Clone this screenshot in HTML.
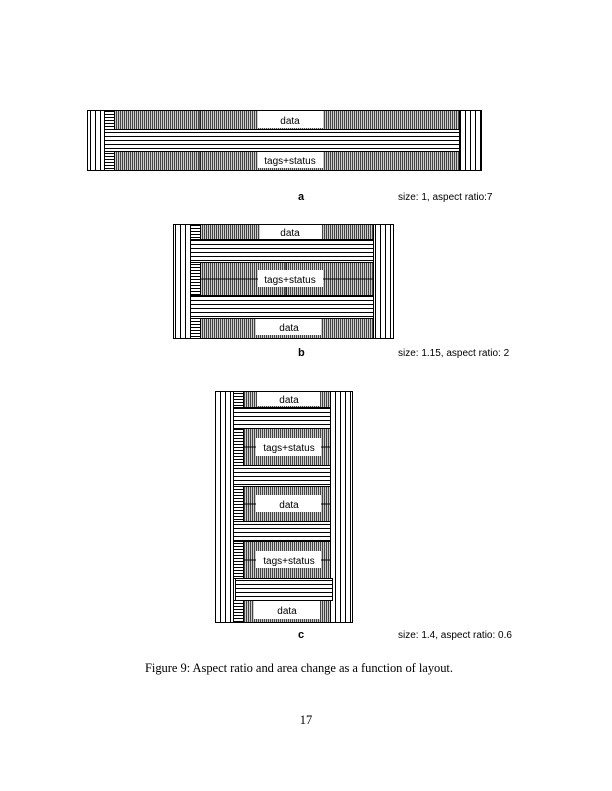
<!DOCTYPE html>
<html><head><style>
html,body{margin:0;padding:0;background:#fff;width:612px;height:791px;overflow:hidden}
svg{display:block}
.l{font-family:"Liberation Sans",sans-serif;font-size:10px}
</style></head><body>
<svg width="612" height="791" viewBox="0 0 612 791" xmlns="http://www.w3.org/2000/svg">
<defs>
<pattern id="g" width="2" height="4" patternUnits="userSpaceOnUse"><rect width="2" height="4" fill="#ccc"/><rect width="1" height="4" fill="#444"/></pattern>
<pattern id="h" width="4" height="4" patternUnits="userSpaceOnUse"><rect width="4" height="4" fill="#fff"/><rect width="4" height="1" fill="#000"/></pattern>
<pattern id="v" width="5" height="4" patternUnits="userSpaceOnUse"><rect width="5" height="4" fill="#fff"/><rect width="1" height="4" fill="#000"/></pattern>
<pattern id="hs" width="3" height="3" patternUnits="userSpaceOnUse"><rect width="3" height="3" fill="#fff"/><rect width="3" height="1" fill="#000"/></pattern>
</defs>
<g stroke="#000" stroke-width="1">
<rect x="87.5" y="110.5" width="394" height="60" fill="#fff"/>
<rect x="87.5" y="110.5" width="17" height="60" fill="url(#v)"/>
<rect x="459.5" y="110.5" width="22" height="60" fill="url(#v)"/>
<rect x="104.5" y="110.5" width="355" height="19" fill="url(#g)"/>
<rect x="104.5" y="110.5" width="10" height="19" fill="url(#hs)"/>
<rect x="104.5" y="129.5" width="355" height="22" fill="url(#h)"/>
<rect x="104.5" y="151.5" width="355" height="19" fill="url(#g)"/>
<rect x="104.5" y="151.5" width="10" height="19" fill="url(#hs)"/>
<line x1="200" y1="111" x2="200" y2="129"/><line x1="200" y1="152" x2="200" y2="170"/>
<rect x="173.5" y="224.5" width="220" height="114" fill="#fff"/>
<rect x="173.5" y="224.5" width="17" height="114" fill="url(#v)"/>
<rect x="373.5" y="224.5" width="20" height="114" fill="url(#v)"/>
<rect x="190.5" y="224.5" width="183" height="15" fill="url(#g)"/>
<rect x="190.5" y="224.5" width="10" height="15" fill="url(#hs)"/>
<rect x="190.5" y="239.5" width="183" height="23" fill="url(#h)"/>
<rect x="190.5" y="262.5" width="183" height="33" fill="url(#g)"/>
<rect x="190.5" y="262.5" width="10" height="33" fill="url(#hs)"/>
<line x1="200" y1="279" x2="373" y2="279"/><line x1="286" y1="263" x2="286" y2="295"/>
<rect x="190.5" y="295.5" width="183" height="23" fill="url(#h)"/>
<rect x="190.5" y="318.5" width="183" height="20" fill="url(#g)"/>
<rect x="190.5" y="318.5" width="10" height="20" fill="url(#hs)"/>
<rect x="215.5" y="391.5" width="137" height="231" fill="#fff"/>
<rect x="215.5" y="391.5" width="18" height="231" fill="url(#v)"/>
<rect x="330.5" y="391.5" width="22" height="231" fill="url(#v)"/>
<rect x="233.5" y="391.5" width="97" height="16" fill="url(#g)"/>
<rect x="233.5" y="391.5" width="10" height="16" fill="url(#hs)"/>
<rect x="233.5" y="407.5" width="97" height="21" fill="url(#h)"/>
<rect x="233.5" y="428.5" width="97" height="37" fill="url(#g)"/>
<rect x="233.5" y="428.5" width="10" height="37" fill="url(#hs)"/>
<rect x="233.5" y="465.5" width="97" height="21" fill="url(#h)"/>
<rect x="233.5" y="486.5" width="97" height="35" fill="url(#g)"/>
<rect x="233.5" y="486.5" width="10" height="35" fill="url(#hs)"/>
<rect x="233.5" y="521.5" width="97" height="20" fill="url(#h)"/>
<rect x="233.5" y="541.5" width="97" height="37" fill="url(#g)"/>
<rect x="233.5" y="541.5" width="10" height="37" fill="url(#hs)"/>
<rect x="235.5" y="578.5" width="97" height="22" fill="url(#h)"/>
<rect x="233.5" y="600.5" width="97" height="22" fill="url(#g)"/>
<rect x="233.5" y="600.5" width="10" height="22" fill="url(#hs)"/>
<line x1="243" y1="447" x2="330" y2="447"/><line x1="243" y1="504" x2="330" y2="504"/><line x1="243" y1="560" x2="330" y2="560"/>
</g>
<g fill="#fff" stroke="none">
<rect x="258" y="111" width="65" height="17"/>
<rect x="258" y="152" width="65" height="16"/>
<rect x="260" y="225" width="62" height="14"/>
<rect x="258" y="270" width="65" height="17"/>
<rect x="256" y="319" width="65" height="16"/>
<rect x="257" y="392" width="63" height="14"/>
<rect x="256" y="438" width="65" height="18"/>
<rect x="256" y="495" width="65" height="17"/>
<rect x="256" y="551" width="65" height="17"/>
<rect x="254" y="601" width="66" height="18"/>
</g>
<g class="l" text-anchor="middle" fill="#000">
<text x="290" y="124">data</text>
<text x="290" y="164">tags+status</text>
<text x="290" y="236">data</text>
<text x="290" y="283">tags+status</text>
<text x="289" y="331">data</text>
<text x="289" y="403">data</text>
<text x="289" y="451">tags+status</text>
<text x="289" y="508">data</text>
<text x="289" y="564">tags+status</text>
<text x="287" y="614">data</text>
</g>
<g class="l" fill="#000">
<text x="298" y="200" font-weight="bold" font-size="11">a</text>
<text x="398" y="200">size: 1, aspect ratio:7</text>
<text x="298" y="356" font-weight="bold" font-size="11">b</text>
<text x="398" y="356">size: 1.15, aspect ratio: 2</text>
<text x="298" y="638" font-weight="bold" font-size="11">c</text>
<text x="398" y="638">size: 1.4, aspect ratio: 0.6</text>
</g>
<text x="145" y="672" font-family="Liberation Serif,serif" font-size="12.5" textLength="308">Figure 9: Aspect ratio and area change as a function of layout.</text>
<text x="306" y="724" font-family="Liberation Serif,serif" font-size="12.5" text-anchor="middle">17</text>
</svg>
</body></html>
